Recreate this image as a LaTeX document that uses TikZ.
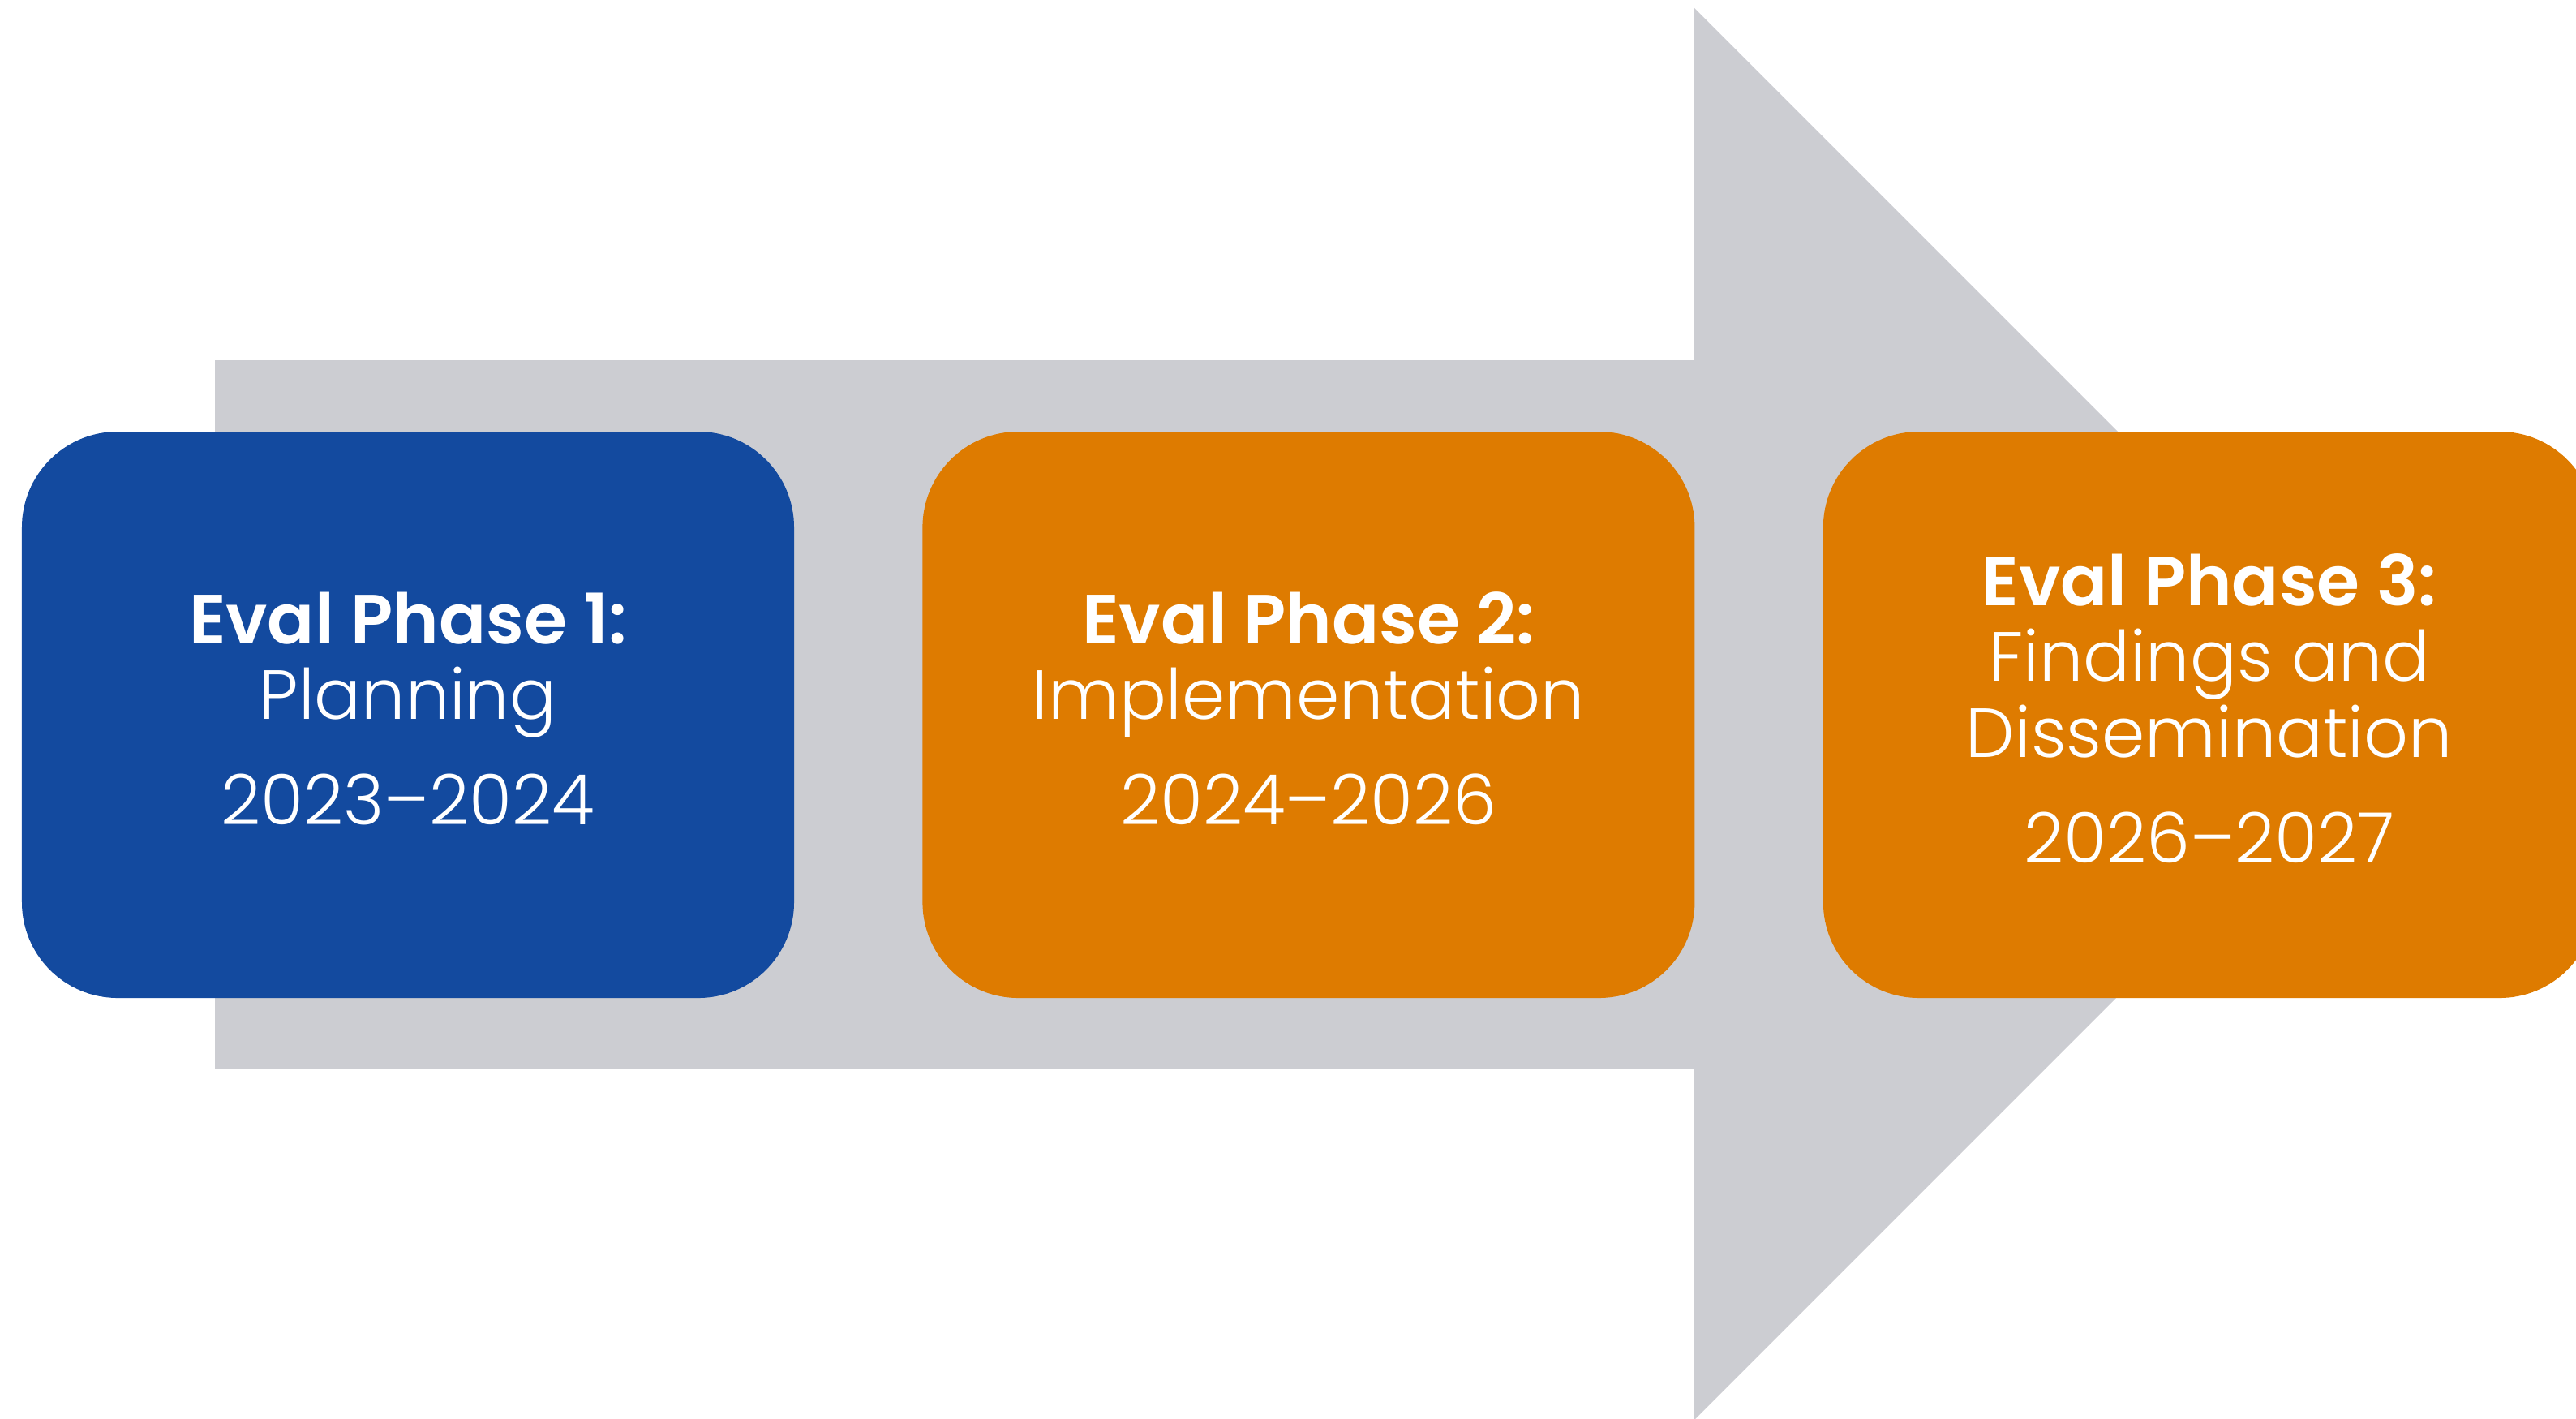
\documentclass[tikz,border=0pt]{standalone}
\usepackage{fontspec}
\setmainfont{Poppins}[UprightFont=* Light, BoldFont=* SemiBold]
\usetikzlibrary{positioning}

\definecolor{phaseblue}{RGB}{19,74,159}
\definecolor{phaseorange}{RGB}{222,123,0}
\definecolor{arrowgray}{RGB}{204,205,210}

\begin{document}
\begin{tikzpicture}[
  phase/.style = {rounded corners=1.18cm, minimum width=9.52cm, minimum height=6.98cm, align=center, text=white, font=\fontsize{24.4}{26.5}\selectfont, inner sep=0pt},
  blue_phase/.style = {phase, fill=phaseblue},
  orange_phase/.style = {phase, fill=phaseorange},
  node distance=1.57cm
]
\useasboundingbox (0,0) rectangle (31.76,-17.48);

%--------------------------------------------------
% Background arrow
%--------------------------------------------------
\fill[arrowgray] (2.65,-4.44) -- (20.88,-4.44) -- (20.88,-0.09) -- (29.59,-8.80)
  -- (20.88,-17.51) -- (20.88,-13.17) -- (2.65,-13.17) -- cycle;

%--------------------------------------------------
% Phases (rounded boxes)
%--------------------------------------------------
\node[blue_phase] (phase1) at (5.03,-8.81)
  {\textbf{Eval Phase 1:}\\Planning\\[0.37cm]2023--2024\rule[-0.16cm]{0pt}{0pt}};

\node[orange_phase, right=of phase1] (phase2)
  {\textbf{Eval Phase 2:}\\Implementation\\[0.37cm]2024--2026\rule[-0.16cm]{0pt}{0pt}};

\node[orange_phase, right=of phase2] (phase3)
  {\textbf{Eval Phase 3:}\\Findings and\\Dissemination\\[0.37cm]2026--2027\rule[-0.16cm]{0pt}{0pt}};

\end{tikzpicture}
\end{document}
